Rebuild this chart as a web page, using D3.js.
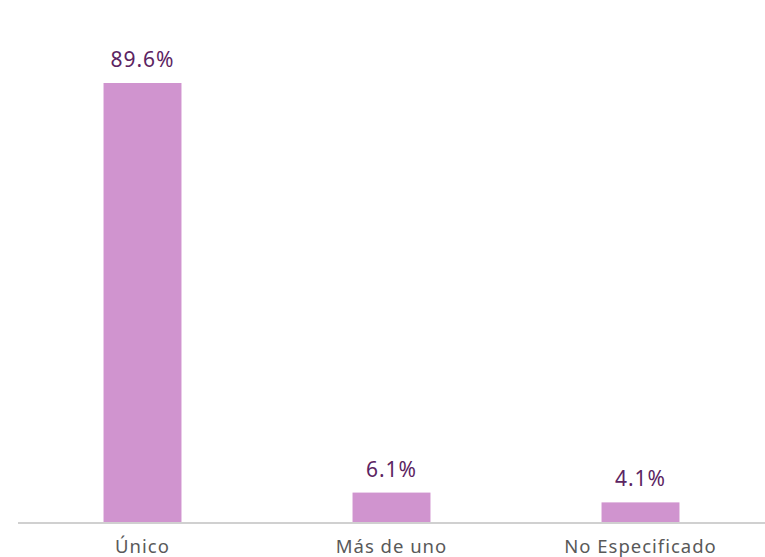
<!DOCTYPE html>
<html><head><meta charset="utf-8">
<script src="https://cdn.jsdelivr.net/npm/d3@7"></script>
<style>body{margin:0;background:#fff}svg{display:block}</style>
</head><body>
<svg id="c" width="765" height="557"></svg>
<script>
const categories = ["Único", "Más de uno", "No Especificado"];
const values = [89.6, 6.1, 4.1];
const valueLabels = ["89.6%", "6.1%", "4.1%"];

const svg = d3.select("#c");
const baseY = 522.5, left = 18, right = 765;
const x = d3.scaleBand().domain(categories).range([left, right]).padding(0);
const y = d3.scaleLinear().domain([0, 89.6]).range([baseY, 83]);
const barW = x.bandwidth() * 0.313;

svg.selectAll("rect.bar").data(values).join("rect")
  .attr("class", "bar")
  .attr("x", (d, i) => x(categories[i]) + (x.bandwidth() - barW) / 2)
  .attr("width", barW)
  .attr("y", d => y(d))
  .attr("height", d => baseY - y(d))
  .attr("fill", "#d094cf");

svg.append("line").attr("x1", left).attr("x2", right).attr("y1", baseY + 0.5).attr("y2", baseY + 0.5)
  .attr("stroke", "#d0d0d0").attr("stroke-width", 2);

svg.selectAll("text.val").data(values).join("text")
  .attr("class", "val")
  .attr("x", (d, i) => x(categories[i]) + x.bandwidth() / 2)
  .attr("y", d => y(d) - 16)
  .attr("text-anchor", "middle")
  .attr("font-family", "'Noto Sans', sans-serif").attr("font-size", 21).attr("font-weight", 400)
  .attr("letter-spacing", 1)
  .attr("fill", "#5c2462")
  .text((d, i) => valueLabels[i]);

svg.selectAll("text.cat").data(categories).join("text")
  .attr("class", "cat")
  .attr("x", d => x(d) + x.bandwidth() / 2)
  .attr("y", 553)
  .attr("text-anchor", "middle")
  .attr("font-family", "'Noto Sans', sans-serif").attr("font-size", 18.5)
  .attr("letter-spacing", 1)
  .attr("fill", "#595959")
  .text(d => d);
</script>
</body></html>
